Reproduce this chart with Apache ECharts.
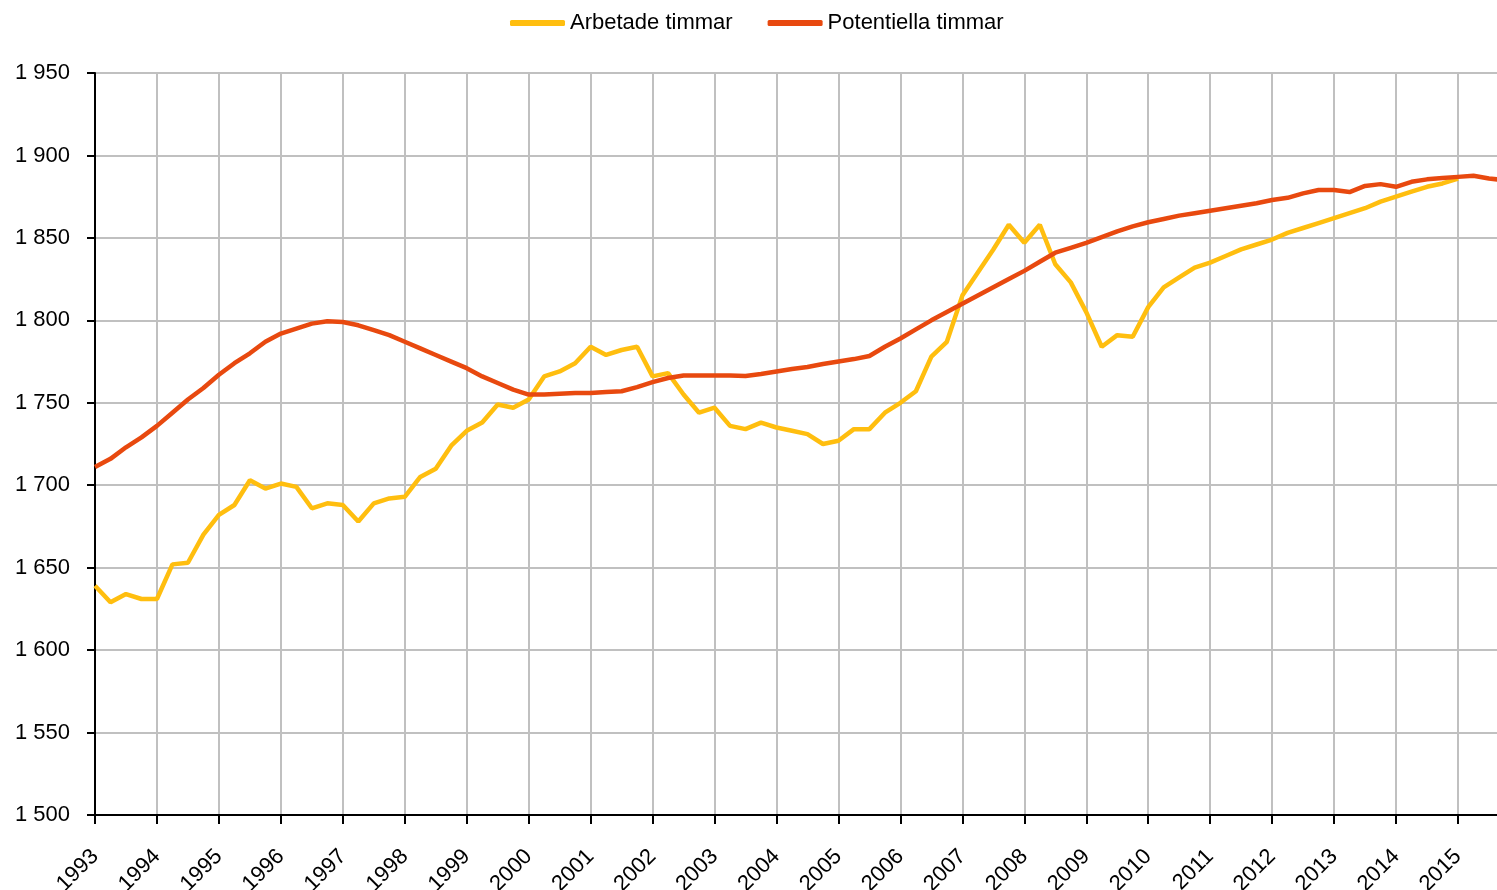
<!DOCTYPE html>
<html>
<head>
<meta charset="utf-8">
<title>Arbetade och potentiella timmar</title>
<script src="https://cdn.jsdelivr.net/npm/echarts@6/dist/echarts.min.js"></script>
<style>
  html, body { margin: 0; padding: 0; background: #fff; }
  #chart { width: 1497px; height: 890px; }
</style>
</head>
<body>
<div id="chart"></div>
<script>
// kvartalsdata, forsta kvartalet 1993
const startYear = 1993
const yTicks = [1500, 1550, 1600, 1650, 1700, 1750, 1800, 1850, 1900, 1950]

const arbetade = [
  1639, 1629, 1634, 1631,
  1631, 1652, 1653, 1670,
  1682, 1688, 1703, 1698,
  1701, 1699, 1686, 1689,
  1688, 1678, 1689, 1692,
  1693, 1705, 1710, 1724,
  1733, 1738, 1749, 1747,
  1752, 1766, 1769, 1774,
  1784, 1779, 1782, 1784,
  1766, 1768, 1755, 1744,
  1747, 1736, 1734, 1738,
  1735, 1733, 1731, 1725,
  1727, 1734, 1734, 1744,
  1750, 1757, 1778, 1787,
  1815, 1829, 1843, 1858,
  1847, 1858, 1834, 1823,
  1805, 1784, 1791, 1790,
  1808, 1820, 1826, 1832,
  1835, 1839, 1843, 1846,
  1849, 1853, 1856, 1859,
  1862, 1865, 1868, 1872,
  1875, 1878, 1881, 1883,
  1886
]

const potentiella = [
  1711, 1716, 1723, 1729,
  1736, 1744, 1752, 1759,
  1767, 1774, 1780, 1787,
  1792, 1795, 1798, 1799.5,
  1799, 1797, 1794, 1791,
  1787, 1783, 1779, 1775,
  1771, 1766, 1762, 1758,
  1755, 1755, 1755.5, 1756,
  1756, 1756.5, 1757, 1759.5,
  1762.5, 1765, 1766.5, 1766.5,
  1766.5, 1766.5, 1766.3, 1767.5,
  1769, 1770.5, 1771.7, 1773.5,
  1775, 1776.5, 1778.4, 1784,
  1789, 1794.5, 1800, 1805,
  1810, 1815, 1820, 1825,
  1830, 1835.5, 1841, 1844,
  1847, 1850.5, 1854, 1857,
  1859.5, 1861.5, 1863.5, 1865,
  1866.5, 1868, 1869.5, 1871,
  1873, 1874.3, 1877, 1879,
  1879, 1877.8, 1881.5, 1882.6,
  1881, 1884, 1885.5, 1886.3,
  1887, 1887.7, 1886, 1885
]

function toPoints(arr) {
  return arr.map((v, i) => [startYear + i / 4, v])
}

const fontFamily = '"Liberation Sans", Arial, sans-serif'

const chart = echarts.init(document.getElementById('chart'))

chart.setOption({
  animation: false,
  legend: {
    top: 7,
    left: 505,
    icon: 'roundRect',
    itemWidth: 55,
    itemHeight: 6,
    itemGap: 35,
    textStyle: { fontSize: 22, color: '#000', fontFamily: fontFamily },
    data: ['Arbetade timmar', 'Potentiella timmar']
  },
  grid: {
    left: 95,
    right: 0,
    top: 73,
    bottom: 75,
    outerBoundsMode: 'none'
  },
  xAxis: {
    type: 'value',
    min: startYear,
    max: 2015.63,
    interval: 1,
    axisLine: { lineStyle: { color: '#000', width: 2 } },
    axisTick: { show: true, length: 9, lineStyle: { color: '#000', width: 2 } },
    splitLine: { show: true, showMaxLine: false, lineStyle: { color: '#c0c0c0', width: 2 } },
    axisLabel: {
      rotate: 45,
      margin: 38,
      fontSize: 22,
      color: '#000',
      fontFamily: fontFamily,
      showMaxLabel: false,
      formatter: v => (Number.isInteger(v) ? String(v) : '')
    }
  },
  yAxis: {
    type: 'value',
    min: yTicks[0],
    max: yTicks[yTicks.length - 1],
    interval: 50,
    axisLine: { show: true, lineStyle: { color: '#000', width: 2 } },
    axisTick: { show: true, length: 8, lineStyle: { color: '#000', width: 2 } },
    splitLine: { show: true, lineStyle: { color: '#c0c0c0', width: 2 } },
    axisLabel: {
      margin: 25,
      fontSize: 22,
      color: '#000',
      fontFamily: fontFamily,
      formatter: v => String(v).replace(/\B(?=(\d{3})+(?!\d))/g, ' ')
    }
  },
  series: [
    {
      name: 'Arbetade timmar',
      type: 'line',
      data: toPoints(arbetade),
      symbol: 'none',
      clip: true,
      lineStyle: { color: '#FFBE0F', width: 4.5 },
      itemStyle: { color: '#FFBE0F' },
      z: 2
    },
    {
      name: 'Potentiella timmar',
      type: 'line',
      data: toPoints(potentiella),
      symbol: 'none',
      clip: true,
      lineStyle: { color: '#E8490F', width: 4.5 },
      itemStyle: { color: '#E8490F' },
      z: 3
    }
  ]
})
</script>
</body>
</html>
